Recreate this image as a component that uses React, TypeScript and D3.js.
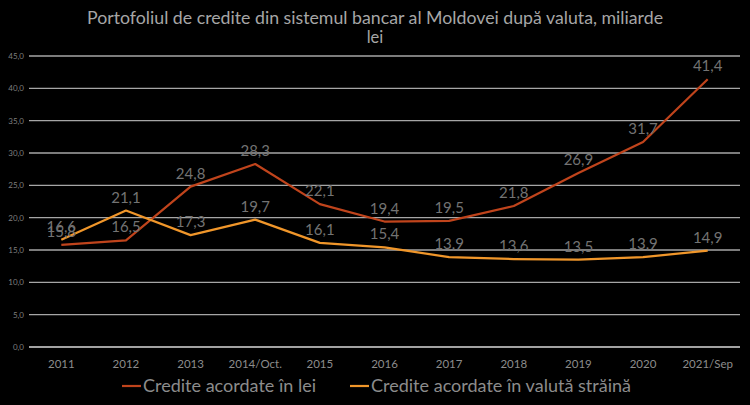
import React, { useEffect, useRef } from "react";
import * as d3 from "d3";

const categories = ["2011", "2012", "2013", "2014/Oct.", "2015", "2016", "2017", "2018", "2019", "2020", "2021/Sep"];
const lei = [15.8, 16.5, 24.8, 28.3, 22.1, 19.4, 19.5, 21.8, 26.9, 31.7, 41.4];
const valuta = [16.6, 21.1, 17.3, 19.7, 16.1, 15.4, 13.9, 13.6, 13.5, 13.9, 14.9];
const yTicks = [0, 5, 10, 15, 20, 25, 30, 35, 40, 45];
const seriesNames = ["Credite acordate în lei", "Credite acordate în valută străină"];
const titleLines = ["Portofoliul de credite din sistemul bancar al Moldovei după valuta, miliarde", "lei"];

const W = 750, H = 405;
const RED = "#c0441c";
const ORANGE = "#f0962a";
const FONT = "Lato, 'Open Sans', sans-serif";

export default function App() {
  const ref = useRef<SVGSVGElement>(null);
  useEffect(() => {
    const svg = d3.select(ref.current);
    svg.selectAll("*").remove();
    svg.append("rect").attr("width", W).attr("height", H).attr("fill", "#000");

    const x = d3.scaleBand<string>().domain(categories).range([29, 740]);
    const y = d3.scaleLinear().domain([0, 45]).range([347, 56]);
    const cx = (c: string) => (x(c) as number) + x.bandwidth() / 2;

    // title
    svg.append("text").attr("x", 375).attr("y", 24).attr("text-anchor", "middle")
      .attr("fill", "#a6a6a6").attr("font-family", FONT).attr("font-size", 16.5)
      .attr("textLength", 576).attr("lengthAdjust", "spacingAndGlyphs").text(titleLines[0]);
    svg.append("text").attr("x", 375).attr("y", 43).attr("text-anchor", "middle")
      .attr("fill", "#a6a6a6").attr("font-family", FONT).attr("font-size", 16.5).text(titleLines[1]);

    // grid
    const g = svg.append("g");
    yTicks.forEach((t) => {
      g.append("line").attr("x1", 29).attr("x2", 740).attr("y1", y(t)).attr("y2", y(t))
        .attr("stroke", t === 0 ? "#d9d9d9" : "#a6a6a6").attr("stroke-width", 1.3);
      g.append("text").attr("x", 24).attr("y", y(t) + 3).attr("text-anchor", "end")
        .attr("fill", "#7f7f7f").attr("font-family", FONT).attr("font-size", 8)
        .text(d3.format(".1f")(t).replace(".", ","));
    });

    // x labels
    categories.forEach((c) => {
      svg.append("text").attr("x", cx(c)).attr("y", 368).attr("text-anchor", "middle")
        .attr("fill", "#8c8c8c").attr("font-family", FONT).attr("font-size", 11.5).text(c);
    });

    const line = d3.line<number>().x((_, i) => cx(categories[i])).y((d) => y(d));
    const series = [
      { data: lei, color: RED },
      { data: valuta, color: ORANGE },
    ];
    series.forEach((s) => {
      svg.append("path").attr("d", line(s.data) as string).attr("fill", "none")
        .attr("stroke", s.color).attr("stroke-width", 2.2).attr("stroke-linejoin", "round");
    });
    series.forEach((s) => {
      s.data.forEach((v, i) => {
        svg.append("text").attr("x", cx(categories[i])).attr("y", y(v) - 8).attr("text-anchor", "middle")
          .attr("fill", "#737373").attr("font-family", FONT).attr("font-size", 15)
          .text(d3.format(".1f")(v).replace(".", ","));
      });
    });

    // legend
    const leg = [
      { x: 122, color: RED, name: seriesNames[0], len: 173 },
      { x: 350, color: ORANGE, name: seriesNames[1], len: 260 },
    ];
    leg.forEach((l) => {
      svg.append("line").attr("x1", l.x).attr("x2", l.x + 19).attr("y1", 386).attr("y2", 386)
        .attr("stroke", l.color).attr("stroke-width", 2.2);
      svg.append("text").attr("x", l.x + 21).attr("y", 391.5).attr("fill", "#8c8c8c")
        .attr("font-family", FONT).attr("font-size", 16.5)
        .attr("textLength", l.len).attr("lengthAdjust", "spacingAndGlyphs").text(l.name);
    });
  }, []);
  return (
    <svg ref={ref} width={W} height={H} style={{ position: "absolute", left: 0, top: 0, display: "block" }} />
  );
}
